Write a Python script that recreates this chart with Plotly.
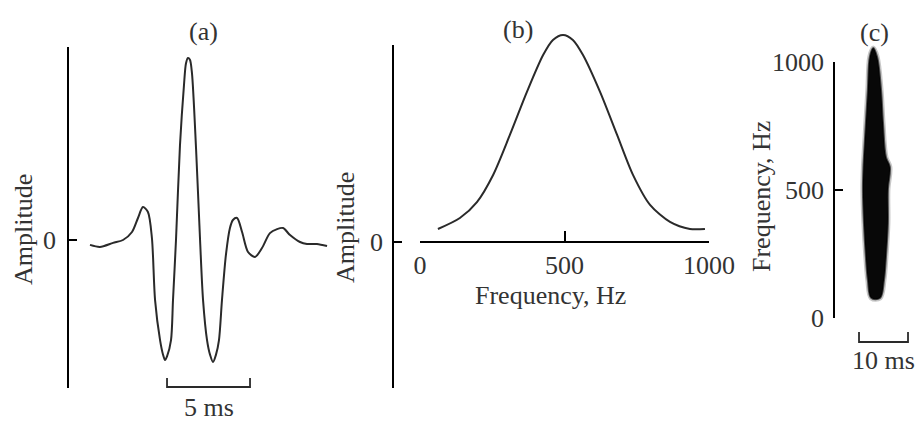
import plotly.graph_objects as go

W, H = 917, 422

# ---- data ----
# (a) waveform: time (ms) and amplitude (relative)
wave_t = [0.00, 0.60, 1.39, 1.99, 2.53, 2.89, 3.19, 3.49, 3.73, 3.92, 4.22, 4.40, 4.52, 4.64, 4.88,
          5.00, 5.18, 5.42, 5.66, 5.78, 5.90, 6.02, 6.14, 6.39, 6.63, 6.81, 7.05, 7.23, 7.41, 7.59,
          7.77, 7.95, 8.19, 8.43, 8.61, 8.86, 9.16, 9.52, 9.94, 10.36, 10.84, 11.27, 11.63, 12.05,
          12.65, 13.07, 13.67, 14.28]
wave_a = [-0.027, -0.038, -0.016, 0.0, 0.044, 0.121, 0.181, 0.154, 0.011, -0.33, -0.55, -0.63, -0.66, -0.64, -0.55,
          -0.33, 0.0, 0.52, 0.85, 0.97, 1.0, 0.99, 0.92, 0.50, 0.0, -0.33, -0.55, -0.63, -0.67, -0.63,
          -0.55, -0.33, -0.08, 0.066, 0.11, 0.121, 0.044, -0.066, -0.093, -0.044, 0.038, 0.060, 0.066, 0.027,
          -0.011, -0.022, -0.022, -0.033]

# (b) spectrum: frequency (Hz) and amplitude
spec_f = [62, 138, 197, 253, 311, 370, 426, 460, 495, 529, 564, 623, 682, 737, 796, 865, 934, 986]
spec_a = [0.063, 0.116, 0.193, 0.324, 0.517, 0.725, 0.903, 0.976, 1.0, 0.976, 0.903, 0.725, 0.517, 0.324,
          0.179, 0.097, 0.063, 0.063]
spec_ticks = [0, 500, 1000]

# (c) spectrogram blob outline: frequency (Hz), left / right time edge (ms)
blob_f = [1055, 1020, 891, 762, 629, 590, 500, 371, 238, 148, 78]
blob_left = [7.8, 7.1, 6.7, 6.3, 5.9, 5.8, 5.7, 5.9, 6.3, 6.7, 7.4]
blob_right = [7.8, 8.6, 9.4, 9.8, 10.4, 11.2, 10.8, 10.8, 10.4, 10.0, 9.2]
sgram_ticks = [0, 500, 1000]

scale_a_ms = (4.64, 9.64)   # 5 ms bar
scale_c_ms = (4.9, 14.9)    # 10 ms bar

FONT = "Liberation Serif"
TXT = "#333333"
LINE = "#2a2a2a"
FS = 26


def px(x):
    return x / W


def py(y):
    return (H - y) / H


fig = go.Figure()

# (a)
fig.add_trace(go.Scatter(x=wave_t, y=wave_a, mode="lines", xaxis="x", yaxis="y",
                         line=dict(color=LINE, width=2, shape="spline", smoothing=0.8),
                         hoverinfo="skip", showlegend=False))
# (b)
fig.add_trace(go.Scatter(x=spec_f, y=spec_a, mode="lines", xaxis="x2", yaxis="y2",
                         line=dict(color=LINE, width=2, shape="spline", smoothing=0.8),
                         hoverinfo="skip", showlegend=False))
fig.add_trace(go.Scatter(x=[500], y=[0], mode="markers", xaxis="x2", yaxis="y3",
                         marker=dict(opacity=0), hoverinfo="skip", showlegend=False))
# (c)
bx = blob_left + blob_right[::-1]
by = blob_f + blob_f[::-1]
fig.add_trace(go.Scatter(x=bx, y=by, mode="lines", fill="toself", xaxis="x3", yaxis="y5",
                         fillcolor="rgba(0,0,0,0)",
                         line=dict(color="rgba(0,0,0,0.22)", width=5, shape="spline"),
                         hoverinfo="skip", showlegend=False))
fig.add_trace(go.Scatter(x=bx, y=by, mode="lines", fill="toself", xaxis="x3", yaxis="y5",
                         fillcolor="#080808",
                         line=dict(color="rgba(0,0,0,0.6)", width=2, shape="spline"),
                         hoverinfo="skip", showlegend=False))
fig.add_trace(go.Scatter(x=[8], y=[500], mode="markers", xaxis="x3", yaxis="y4",
                         marker=dict(opacity=0), hoverinfo="skip", showlegend=False))

axis_common = dict(showgrid=False, zeroline=False, showline=True, linecolor="black", linewidth=1.8,
                   ticks="inside", tickcolor="black", tickwidth=1.6, ticklen=8, automargin=False,
                   tickfont=dict(family=FONT, size=FS, color=TXT))

fig.update_layout(
    template="none",
    # (a) axes
    xaxis=dict(domain=[px(69), px(340)], range=[(69 - 90) / 16.6, (340 - 90) / 16.6], visible=False,
               automargin=False),
    yaxis=dict(domain=[py(388), py(47)], range=[(240 - 388) / 182, (240 - 47) / 182], anchor="x",
               tickvals=[0], ticktext=["0"], ticklabelstandoff=6, **axis_common),
    # (b) axes
    xaxis2=dict(domain=[px(420), px(709)], range=[0, 1000], anchor="free", position=py(242),
                tickvals=spec_ticks, ticklen=10, ticklabelstandoff=0,
                **{k: v for k, v in axis_common.items() if k != "ticklen"}),
    yaxis2=dict(domain=[py(388), py(30)], range=[(242 - 388) / 207, (242 - 30) / 207], anchor="x2",
                visible=False, automargin=False),
    yaxis3=dict(domain=[py(388), py(45)], range=[(242 - 388) / 207, (242 - 45) / 207], anchor="free",
                position=px(393), tickvals=[0], ticktext=["0"], ticklabelstandoff=4, **axis_common),
    # (c) axes
    xaxis3=dict(domain=[px(835), 1.0], range=[0, 82 / 4.9], anchor="y4", visible=False, automargin=False),
    yaxis4=dict(domain=[py(318), py(62)], range=[0, 1000], anchor="x3",
                tickvals=sgram_ticks, ticklabelstandoff=4, **axis_common),
    yaxis5=dict(domain=[py(318), py(40)], range=[0, (318 - 40) / 0.256], anchor="x3",
                visible=False, automargin=False),
)

# scale bars
ya0, ya1 = py(387), py(378)
fig.add_shape(type="path", xref="x", yref="paper",
              path=f"M {scale_a_ms[0]},{ya1} L {scale_a_ms[0]},{ya0} L {scale_a_ms[1]},{ya0} L {scale_a_ms[1]},{ya1}",
              line=dict(color=LINE, width=1.8))
yc0, yc1 = py(342), py(332)
fig.add_shape(type="path", xref="x3", yref="paper",
              path=f"M {scale_c_ms[0]},{yc1} L {scale_c_ms[0]},{yc0} L {scale_c_ms[1]},{yc0} L {scale_c_ms[1]},{yc1}",
              line=dict(color=LINE, width=1.8))


def ann(text, x, y, xref="paper", angle=0):
    fig.add_annotation(text=text, x=x, y=y, xref=xref, yref="paper", showarrow=False,
                       xanchor="center", yanchor="middle", textangle=angle,
                       font=dict(family=FONT, size=FS, color=TXT))


ann("(a)", px(203), py(31))
ann("(b)", px(518), py(30))
ann("(c)", px(874), py(32))
ann("Amplitude", px(24), py(230), angle=-90)
ann("Amplitude", px(345), py(228), angle=-90)
ann("Frequency, Hz", px(761), py(197), angle=-90)
ann("Frequency, Hz", px(550), py(295))
ann("5 ms", (scale_a_ms[0] + scale_a_ms[1]) / 2, py(407), xref="x")
ann("10 ms", (scale_c_ms[0] + scale_c_ms[1]) / 2, py(360), xref="x3")

fig.update_layout(width=W, height=H, margin=dict(l=0, r=0, t=0, b=0),
                  paper_bgcolor="white", plot_bgcolor="rgba(0,0,0,0)", showlegend=False)

fig.write_html("out.html")
